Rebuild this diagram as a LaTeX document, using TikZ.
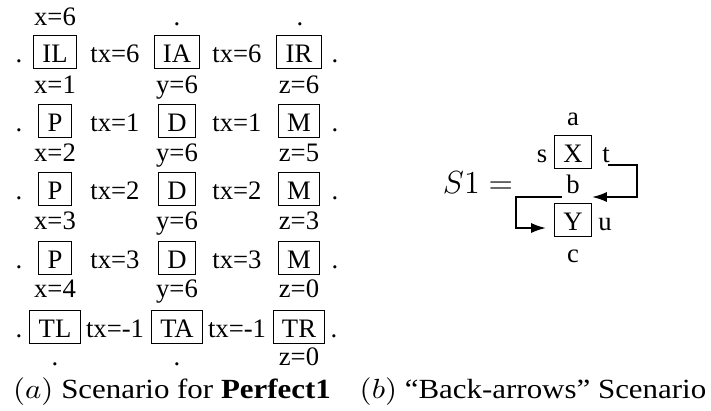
\documentclass[tikz,border=0pt]{standalone}
\usepackage[no-math]{fontspec}
\setmainfont{Liberation Serif}
\usepackage{tikz}
\usetikzlibrary{calc,arrows.meta}

\begin{document}
\begin{tikzpicture}[
x=0.375pt, y=-0.375pt,
lbl/.style={inner sep=1pt, text height=8.5pt, text depth=1pt, anchor=base},
box/.style={draw, thin, inner xsep=3.3pt, inner ysep=1.5pt, text height=8.5pt, text depth=1pt, anchor=base},
caption/.style={inner sep=1pt, anchor=base},
arrow/.style={-{Latex[length=5.6pt,width=3.8pt]}, line width=0.7pt}
]
\useasboundingbox (0,0) rectangle (711,410);

% --- (a): SCENARIO GRID ---
\node[lbl] (x6) at (55,25) {x=6};
\node[lbl] (topm) at (177,25) {.};
\node[lbl] (topr) at (300,25) {.};

\node[lbl] (dl1) at (19,62) {.};
\node[box] (IL) at (55,62) {IL};
\node[lbl] (tx1a) at (115,62) {tx=6};
\node[box] (IA) at (177,62) {IA};
\node[lbl] (tx1b) at (237,62) {tx=6};
\node[box] (IR) at (299,62) {IR};
\node[lbl] (dr1) at (335,62) {.};

\node[lbl] (x1) at (55,93) {x=1};
\node[lbl] (y1) at (177,93) {y=6};
\node[lbl] (z1) at (299,93) {z=6};

\node[lbl] (dl2) at (19,131) {.};
\node[box] (P1) at (55,131) {P};
\node[lbl] (tx2a) at (115,131) {tx=1};
\node[box] (D1) at (177,131) {D};
\node[lbl] (tx2b) at (237,131) {tx=1};
\node[box] (M1) at (299,131) {M};
\node[lbl] (dr2) at (335,131) {.};

\node[lbl] (x2) at (55,161) {x=2};
\node[lbl] (y2) at (177,161) {y=6};
\node[lbl] (z2) at (299,161) {z=5};

\node[lbl] (dl3) at (19,199) {.};
\node[box] (P2) at (55,199) {P};
\node[lbl] (tx3a) at (115,199) {tx=2};
\node[box] (D2) at (177,199) {D};
\node[lbl] (tx3b) at (237,199) {tx=2};
\node[box] (M2) at (299,199) {M};
\node[lbl] (dr3) at (335,199) {.};

\node[lbl] (x3) at (55,229) {x=3};
\node[lbl] (y3) at (177,229) {y=6};
\node[lbl] (z3) at (299,229) {z=3};

\node[lbl] (dl4) at (19,268) {.};
\node[box] (P3) at (55,268) {P};
\node[lbl] (tx4a) at (115,268) {tx=3};
\node[box] (D3) at (177,268) {D};
\node[lbl] (tx4b) at (237,268) {tx=3};
\node[box] (M3) at (299,268) {M};
\node[lbl] (dr4) at (335,268) {.};

\node[lbl] (x4) at (55,297) {x=4};
\node[lbl] (y4) at (177,297) {y=6};
\node[lbl] (z4) at (299,297) {z=0};

\node[lbl] (dl5) at (19,337) {.};
\node[box] (TL) at (55,337) {TL};
\node[lbl] (tx5a) at (115,337) {tx=-1};
\node[box] (TA) at (177,337) {TA};
\node[lbl] (tx5b) at (237,337) {tx=-1};
\node[box] (TR) at (299,337) {TR};
\node[lbl] (dr5) at (334,337) {.};

\node[lbl] (botl) at (55,365) {.};
\node[lbl] (botm) at (177,365) {.};
\node[lbl] (z5) at (299,365) {z=0};

% --- (b): BACK-ARROWS ---
\node[lbl] (S1) at (478,193) {\large $S1 =$};
\node[box] (X) at (573,162) {X};
\node[box] (Y) at (573,230) {Y};
\node[lbl] (a) at (573,125) {a};
\node[lbl] (s) at (542,162) {s};
\node[lbl] (t) at (606,162) {t};
\node[lbl] (b) at (573,193) {b};
\node[lbl] (u) at (605,230) {u};
\node[lbl] (c) at (573,262) {c};

\draw[arrow] ($(t.base)+(2,3)$) -- ++(29,0) |- ($(X.east)+(0,45)$);
\draw[arrow] ($(b.base)+(-11,4)$) -- ++(-46,0) |- ($(Y.west)+(-8,8)$);

% --- CAPTIONS ---
\node[caption] (capa) at (172,398) {\scalebox{1.16}[1.04]{$(a)$ Scenario for \textbf{Perfect1}}};
\node[caption] (capb) at (533,398) {\scalebox{1.16}[1.04]{$(b)$ ``Back-arrows'' Scenario}};

\end{tikzpicture}
\end{document}
